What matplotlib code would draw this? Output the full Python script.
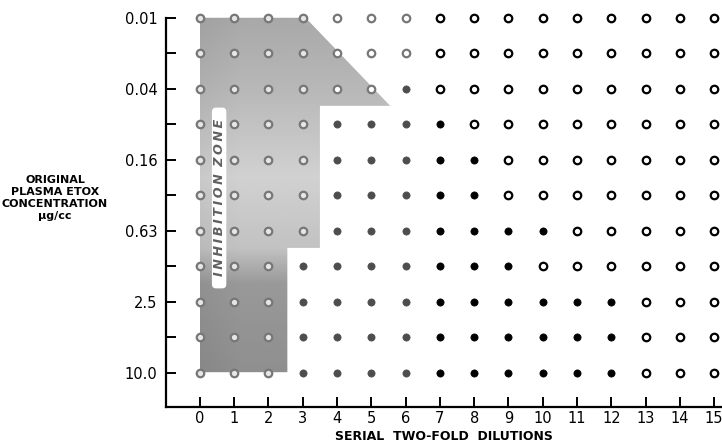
import numpy as np
import matplotlib
matplotlib.use("Agg")
import matplotlib.pyplot as plt
from matplotlib.patches import Polygon, FancyBboxPatch

# dilution columns and concentration rows
dilutions = list(range(16))
conc_labels = ["0.01", "", "0.04", "", "0.16", "", "0.63", "", "2.5", "", "10.0"]

# first and last filled (growth) column for each row, None = all open
filled_from = [None, None, 6, 4, 4, 4, 4, 3, 3, 3, 3]
filled_to = [None, None, 6, 7, 8, 8, 10, 9, 12, 12, 12]

# outline of the shaded inhibition zone (column, row)
zone_x = [-0.02, 3.08, 5.55, 3.5, 3.5, 2.55, 2.55, -0.02]
zone_y = [0.0, 0.0, 2.48, 2.48, 6.48, 6.48, 9.98, 9.98]

fig = plt.figure(figsize=(7.22, 4.46), dpi=100)
ax = fig.add_axes([166 / 722, 39 / 446, 556 / 722, 407 / 446])
ax.set_xlim(-0.99, 15.23)
ax.set_ylim(10.96, -0.5)

# shaded zone with a rough scanned-looking gradient
poly = Polygon(list(zip(zone_x, zone_y)), closed=True, facecolor="none", edgecolor="none")
ax.add_patch(poly)
yy, xx = np.mgrid[0:10:200j, 0:6:120j]
shade = np.interp(yy, [0, 2, 4.5, 6.5, 7.5, 10], [0.66, 0.72, 0.82, 0.76, 0.60, 0.56])
shade = shade - 0.03 * np.clip(1 - xx / 1.2, 0, 1)
img = ax.imshow(shade, cmap="gray", vmin=0, vmax=1, extent=(0, 6, 10, 0),
                interpolation="bilinear", zorder=1, aspect="auto")
img.set_clip_path(poly)

# white label strip
strip = FancyBboxPatch((0.37, 2.55), 0.38, 5.05, boxstyle="round,pad=0.02,rounding_size=0.12",
                       facecolor="white", edgecolor="none", zorder=2)
ax.add_patch(strip)
ax.text(0.56, 5.05, "\u2009".join("INHIBITION") + "\u2009\u2009\u2009" + "\u2009".join("ZONE"),
        rotation=90, ha="center", va="center", fontsize=9.2, fontweight="bold",
        fontstyle="italic", color="#606060", zorder=3)

for r in range(len(conc_labels)):
    for c in dilutions:
        filled = filled_from[r] is not None and filled_from[r] <= c <= filled_to[r]
        dark = c >= 7
        if filled:
            col = "black" if dark else "#4d4d4d"
            ax.plot(c, r, "o", ms=5.2, mfc=col, mec=col, mew=0.5, zorder=4, clip_on=False)
        else:
            in_zone = c <= 3 and not (c == 3 and r >= 7)
            ec = "black" if dark else "#777777"
            fc = "#e6e6e6" if in_zone else "white"
            ax.plot(c, r, "o", ms=5.4, mfc=fc, mec=ec, mew=1.6, zorder=4, clip_on=False)

for s in ["top", "right"]:
    ax.spines[s].set_visible(False)
ax.spines["left"].set_bounds(0, 10.96)
ax.spines["left"].set_linewidth(1.6)
ax.spines["bottom"].set_linewidth(1.6)

ax.set_yticks(range(len(conc_labels)))
ax.set_yticklabels(conc_labels)
ax.set_xticks(dilutions)
ax.set_xticklabels([str(d) for d in dilutions])
ax.tick_params(axis="both", direction="in", length=7, width=1.4, labelsize=10.5, colors="black")
ax.tick_params(axis="y", pad=6)
ax.tick_params(axis="x", pad=3)

ax.set_xlabel("SERIAL  TWO-FOLD  DILUTIONS", fontsize=9, fontweight="bold", labelpad=3)
fig.text(55 / 722, 1 - 198 / 446, "ORIGINAL\nPLASMA ETOX\nCONCENTRATION\n\u00b5g/cc",
         ha="center", va="center", fontsize=8, fontweight="bold", linespacing=1.25)

fig.savefig("out.png", dpi=100)
